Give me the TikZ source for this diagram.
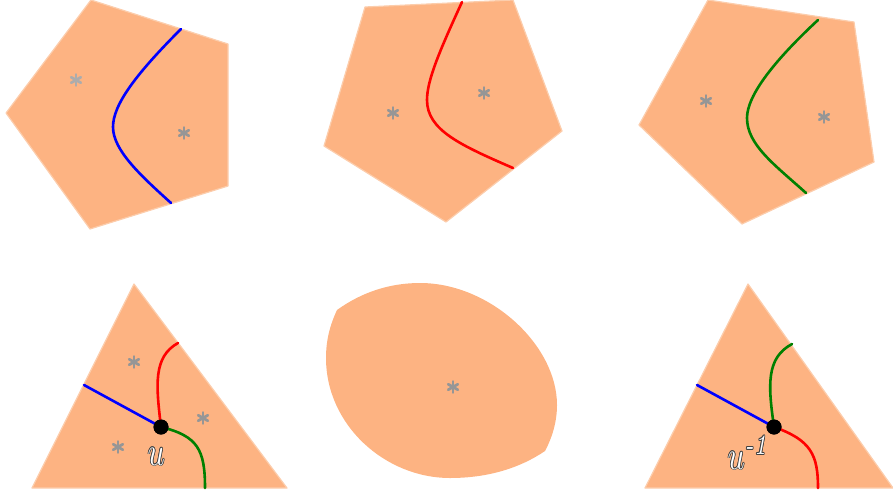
\documentclass[tikz,border=0pt]{standalone}
\usepackage{amsmath}
\usepackage{tikz}
\usetikzlibrary{positioning}
\definecolor{peach}{RGB}{253,179,130}
\definecolor{peachedge}{RGB}{252,205,172}
\definecolor{stargray}{RGB}{150,150,150}
\definecolor{starlight}{RGB}{172,172,172}
\definecolor{wallblue}{RGB}{0,0,255}
\definecolor{wallred}{RGB}{255,0,0}
\definecolor{wallgreen}{RGB}{0,128,0}

\tikzset{
  tile/.style={fill=peach, draw=peachedge, line width=1.2, line join=round},
  wall/.style={line width=2.6, line cap=round},
  vert/.style={circle, fill=black, inner sep=0pt, minimum size=15},
  marker/.style={line width=2.7, line cap=round},
  lab/.style={anchor=base west, inner sep=0pt, xscale=3, yscale=4},
}
% gray asterisk: name, position, colour
\newcommand{\astk}[3]{%
  \coordinate (#1) at (#2);
  \foreach \a in {90,30,150}
    \draw[marker, #3] ([shift={(\a:5.6)}]#1) -- ([shift={(\a+180:5.6)}]#1);
}

\begin{document}
\begin{tikzpicture}[x=1pt, y=-1pt]
  \useasboundingbox (0,0) rectangle (893,495);

  % top row: three pentagons
  \fill[tile] (91,0) -- (228,44) -- (228,186) -- (90,229) -- (6,113) -- cycle;
  \draw[wall, wallblue] (181,29) .. controls (135,75) and (113,105) .. (113,127)
    .. controls (113,150) and (140,175) .. (171,203);
  \astk{p1a}{76,80}{starlight}
  \astk{p1b}{184,133}{stargray}

  \fill[tile] (365,7) -- (513,0) -- (562,131) -- (446,222) -- (324,146) -- cycle;
  \draw[wall, wallred] (462,2) .. controls (440,50) and (427,80) .. (427,100)
    .. controls (427,130) and (460,145) .. (513,168);
  \astk{p2a}{393,113}{stargray}
  \astk{p2b}{484,93}{stargray}

  \fill[tile] (708,0) -- (854,22) -- (874,162) -- (742,224) -- (639,125) -- cycle;
  \draw[wall, wallgreen] (818,20) .. controls (775,60) and (747,95) .. (747,118)
    .. controls (747,145) and (775,165) .. (806,193);
  \astk{p3a}{706,101}{stargray}
  \astk{p3b}{824,117}{stargray}

  % bottom left: triangle with vertex u
  \fill[tile] (134,284) -- (287,488) -- (32,488) -- cycle;
  \node[vert] (u) at (161,427) {};
  \coordinate (ublue) at (84,385);
  \coordinate (ured) at (178,343);
  \coordinate (ugreen) at (205,488);
  \draw[wall, wallblue] (ublue) -- (u.center);
  \draw[wall, wallred] (u.center) .. controls (156,385) and (153,357) .. (ured);
  \draw[wall, wallgreen] (u.center) .. controls (198,436) and (205,450) .. (ugreen);
  \node[vert] at (u) {};
  \astk{t1a}{134,362}{stargray}
  \astk{t1b}{203,418}{stargray}
  \astk{t1c}{118,447}{stargray}
  \coordinate (upos) at (147,465);
  \foreach \a in {0,45,...,315}
    \node[lab, text=black!75] (ushade\a) at ([shift={(\a:0.8)}]upos) {$u$};
  \node[lab, text=white] (ulab) at (upos) {$u$};

  % bottom middle: the merged region
  \fill[tile, draw=none] (337,310) .. controls (362,292) and (390,283) .. (420,283)
    .. controls (490,283) and (557,345) .. (557,405)
    .. controls (557,422) and (552,438) .. (545,451)
    .. controls (520,468) and (488,478) .. (450,478)
    .. controls (385,478) and (326,425) .. (326,358)
    .. controls (326,340) and (330,325) .. (337,310) -- cycle;
  \astk{m1}{453,387}{stargray}

  % bottom right: triangle with vertex u^-1
  \fill[tile] (748,284) -- (893,488) -- (645,488) -- cycle;
  \node[vert] (v) at (774,427) {};
  \coordinate (vblue) at (697,385);
  \coordinate (vgreen) at (792,344);
  \coordinate (vred) at (818,488);
  \draw[wall, wallblue] (vblue) -- (v.center);
  \draw[wall, wallgreen] (v.center) .. controls (768,385) and (766,358) .. (vgreen);
  \draw[wall, wallred] (v.center) .. controls (811,440) and (818,455) .. (vred);
  \node[vert] at (v) {};
  \coordinate (vpos) at (727,469);
  \foreach \a in {0,45,...,315}
    \node[lab, text=black!75] (vshade\a) at ([shift={(\a:0.8)}]vpos) {$u^{\textit{-1}}$};
  \node[lab, text=white] (vlab) at (vpos) {$u^{\textit{-1}}$};
\end{tikzpicture}
\end{document}
